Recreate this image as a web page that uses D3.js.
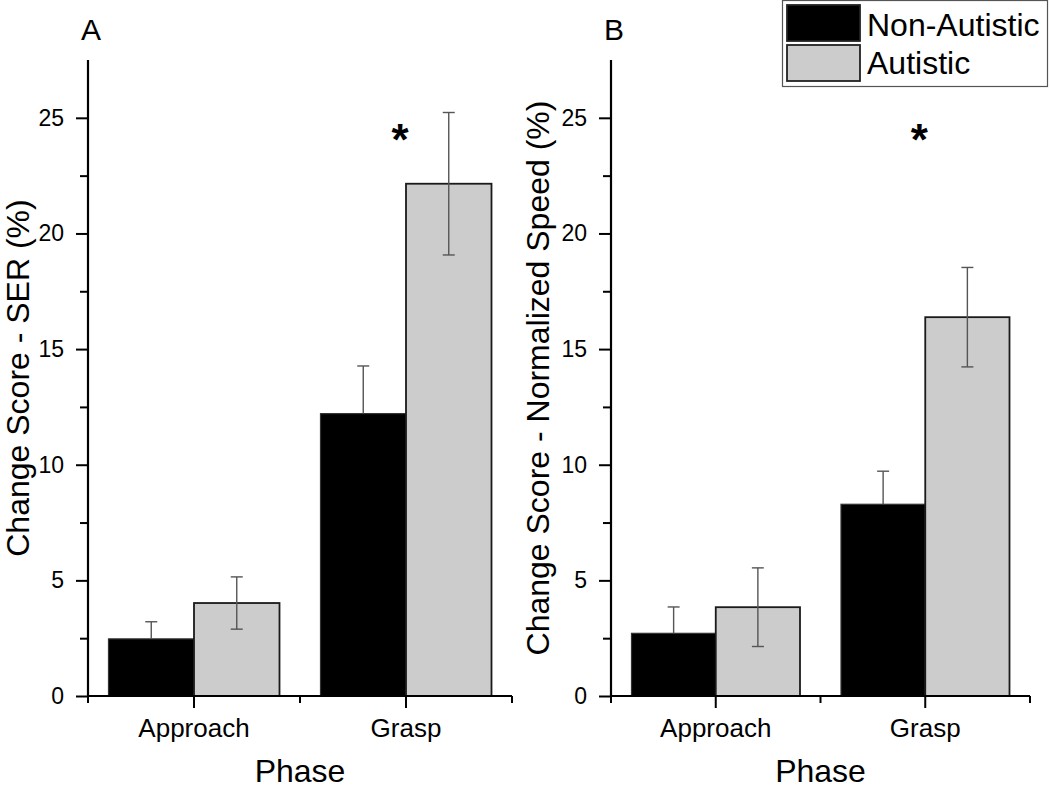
<!DOCTYPE html>
<html>
<head>
<meta charset="utf-8">
<script src="https://cdn.jsdelivr.net/npm/d3@7"></script>
<style>
  html, body { margin: 0; padding: 0; background: #fff; }
  text { font-family: Arial, "Liberation Sans", Helvetica, sans-serif; fill: #000; }
</style>
</head>
<body>
<svg id="chart" width="1050" height="789"></svg>
<script>
// ---------- data ----------
const phases = ["Approach", "Grasp"];
const groups = ["Non-Autistic", "Autistic"];
const groupColors = ["#000000", "#cccccc"];

// Panel A: Change Score - SER (%)
const serNonAutistic = [2.47, 12.21];
const serNonAutisticErr = [0.74, 2.06];
const serAutistic = [4.02, 22.15];
const serAutisticErr = [1.13, 3.08];

// Panel B: Change Score - Normalized Speed (%)
const speedNonAutistic = [2.71, 8.29];
const speedNonAutisticErr = [1.14, 1.43];
const speedAutistic = [3.84, 16.38];
const speedAutisticErr = [1.70, 2.15];

const yTicksMajor = [0, 5, 10, 15, 20, 25];
const yTicksMinor = [2.5, 7.5, 12.5, 17.5, 22.5];
const yMax = 27.5;

const panels = [
  { letter: "A", yTitle: "Change Score - SER (%)", left: 88, right: 512,
    values: [serNonAutistic, serAutistic], errs: [serNonAutisticErr, serAutisticErr],
    star: "Grasp", titleX: 29 },
  { letter: "B", yTitle: "Change Score - Normalized Speed (%)", left: 611, right: 1030,
    values: [speedNonAutistic, speedAutistic], errs: [speedNonAutisticErr, speedAutisticErr],
    star: "Grasp", titleX: 549 }
];

const svg = d3.select("#chart");
const plotTop = 60, plotBottom = 696;

panels.forEach(p => {
  const g = svg.append("g");
  const y = d3.scaleLinear().domain([0, yMax]).range([plotBottom, plotTop]);
  const step = (p.right - p.left) / phases.length;
  const pin = 41 / step;
  const x = d3.scaleBand().domain(phases).range([p.left, p.right])
    .paddingInner(pin).paddingOuter(pin / 2);
  const xs = d3.scaleBand().domain(groups).range([0, x.bandwidth()]).padding(0);

  // bars
  groups.forEach((grp, gi) => {
    g.selectAll(null).data(phases).enter().append("rect")
      .attr("x", d => x(d) + xs(grp))
      .attr("y", (d, i) => y(p.values[gi][i]))
      .attr("width", xs.bandwidth())
      .attr("height", (d, i) => y(0) - y(p.values[gi][i]))
      .attr("fill", groupColors[gi])
      .attr("stroke", gi === 0 ? "#333" : "#1a1a1a")
      .attr("stroke-width", gi === 0 ? 1.2 : 1.8);
  });

  // error bars
  groups.forEach((grp, gi) => {
    phases.forEach((ph, i) => {
      const cx = x(ph) + xs(grp) + xs.bandwidth() / 2;
      const v = p.values[gi][i], e = p.errs[gi][i];
      const lo = gi === 0 ? v : v - e;
      const eg = g.append("g").attr("stroke", "#555").attr("stroke-width", 1.4);
      eg.append("line").attr("x1", cx).attr("x2", cx).attr("y1", y(v + e)).attr("y2", y(lo));
      eg.append("line").attr("x1", cx - 6).attr("x2", cx + 6).attr("y1", y(v + e)).attr("y2", y(v + e));
      if (gi !== 0) {
        eg.append("line").attr("x1", cx - 6).attr("x2", cx + 6).attr("y1", y(v - e)).attr("y2", y(v - e));
      }
    });
  });

  // y axis
  const yAxis = d3.axisLeft(y).tickValues(yTicksMajor).tickSize(12).tickPadding(12)
    .tickFormat(d3.format("d"));
  const ya = g.append("g").attr("transform", `translate(${p.left},0)`).call(yAxis);
  ya.select(".domain").attr("stroke", "#000").attr("stroke-width", 2.2)
    .attr("d", `M0,${plotTop}V${plotBottom}`);
  ya.selectAll(".tick line").attr("stroke", "#000").attr("stroke-width", 2);
  ya.selectAll(".tick text").attr("font-size", 23).attr("font-family", "Arial, 'Liberation Sans', sans-serif");
  const yMinorAxis = d3.axisLeft(y).tickValues(yTicksMinor).tickSize(8).tickFormat("");
  const ym = g.append("g").attr("transform", `translate(${p.left},0)`).call(yMinorAxis);
  ym.select(".domain").remove();
  ym.selectAll(".tick line").attr("stroke", "#000").attr("stroke-width", 2);

  // x axis
  const xAxis = d3.axisBottom(x).tickSize(12).tickPadding(11);
  const xa = g.append("g").attr("transform", `translate(0,${plotBottom})`).call(xAxis);
  xa.select(".domain").attr("stroke", "#000").attr("stroke-width", 2.2)
    .attr("d", `M${p.left},0H${p.right}`);
  xa.selectAll(".tick line").attr("stroke", "#000").attr("stroke-width", 2);
  xa.selectAll(".tick text").attr("font-size", 26).attr("font-family", "Arial, 'Liberation Sans', sans-serif");
  // minor x ticks at ends and between categories
  const mid = (x(phases[0]) + x.bandwidth() + x(phases[1])) / 2;
  [p.left, mid, p.right].forEach(mx => {
    g.append("line").attr("x1", mx).attr("x2", mx).attr("y1", plotBottom).attr("y2", plotBottom + 7)
      .attr("stroke", "#000").attr("stroke-width", 2);
  });

  // axis titles
  g.append("text")
    .attr("transform", `translate(${p.titleX},${(plotTop + plotBottom) / 2}) rotate(-90)`)
    .attr("text-anchor", "middle").attr("font-size", 32).text(p.yTitle);
  g.append("text").attr("x", (p.left + p.right) / 2).attr("y", 782)
    .attr("text-anchor", "middle").attr("font-size", 32).text("Phase");

  // panel letter
  g.append("text").attr("x", p.left + 3).attr("y", 40)
    .attr("text-anchor", "middle").attr("font-size", 30).text(p.letter);

  // significance star
  const sx = x(p.star) + x.bandwidth() / 2 - 6;
  g.append("text").attr("x", sx).attr("y", 155)
    .attr("text-anchor", "middle").attr("font-size", 44).attr("font-weight", "bold").text("*");
});

// legend
const leg = svg.append("g");
leg.append("rect").attr("x", 782.5).attr("y", 0.5).attr("width", 265).attr("height", 86)
  .attr("fill", "#fff").attr("stroke", "#555").attr("stroke-width", 1.2);
groups.forEach((grp, i) => {
  leg.append("rect").attr("x", 787).attr("y", 5 + i * 40).attr("width", 73).attr("height", 36)
    .attr("fill", groupColors[i]).attr("stroke", "#222").attr("stroke-width", 1.8);
  leg.append("text").attr("x", 867).attr("y", 36 + i * 38).attr("font-size", 32).text(grp);
});
</script>
</body>
</html>
